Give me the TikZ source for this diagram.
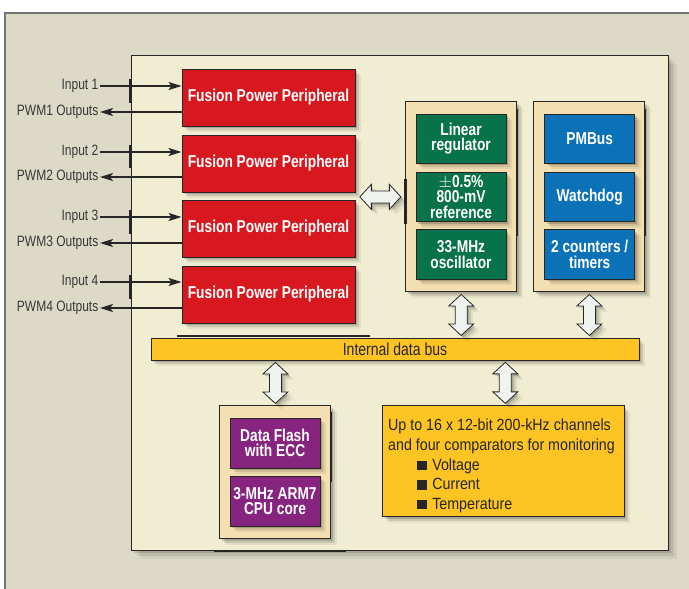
\documentclass[tikz,border=0pt]{standalone}
\usepackage{fontspec}
\setmainfont{Liberation Sans}
\newfontfamily\nfont[FakeStretch=0.8]{Liberation Sans}
\newfontfamily\wfont[FakeStretch=0.88]{Liberation Sans}
\usetikzlibrary{shadows,calc,arrows.meta}
\definecolor{bgout}{HTML}{DCDAC6}
\definecolor{bgin}{HTML}{F0EDD3}
\definecolor{tanc}{HTML}{F3DFB1}
\definecolor{fred}{HTML}{D7181F}
\definecolor{fgreen}{HTML}{08724A}
\definecolor{fblue}{HTML}{0B72B8}
\definecolor{fpurple}{HTML}{86247F}
\definecolor{fyellow}{HTML}{FDC424}
\definecolor{arrfill}{HTML}{F1F3F1}
\definecolor{ink}{HTML}{262626}
\definecolor{lblc}{HTML}{383838}
\tikzset{
  fuzzy/.style={drop shadow={shadow xshift=2pt,shadow yshift=-2pt,opacity=.16,fill=black},
                drop shadow={shadow xshift=4pt,shadow yshift=-4pt,opacity=.10,fill=black},
                drop shadow={shadow xshift=6pt,shadow yshift=-6pt,opacity=.06,fill=black}},
  bigfuzzy/.style={drop shadow={shadow xshift=3pt,shadow yshift=-3pt,opacity=.12,fill=black},
                drop shadow={shadow xshift=6pt,shadow yshift=-6pt,opacity=.09,fill=black},
                drop shadow={shadow xshift=9pt,shadow yshift=-9pt,opacity=.06,fill=black}},
  box/.style={draw=ink, line width=0.9pt, inner sep=0pt, align=center, text=white,
              font=\nfont\bfseries\fontsize{17.2pt}{15.5pt}\selectfont, fuzzy},
  redbox/.style={box, fill=fred, minimum width=173pt, minimum height=57pt},
  grnbox/.style={box, fill=fgreen, minimum width=90pt, minimum height=49.5pt},
  blubox/.style={box, fill=fblue, minimum width=90pt, minimum height=49.5pt},
  purbox/.style={box, fill=fpurple, minimum width=90pt, minimum height=50pt},
  cont/.style={draw=ink, line width=0.9pt, fill=tanc, inner sep=0pt, fuzzy},
  lbl/.style={font=\nfont\fontsize{15pt}{16pt}\selectfont, text=lblc, inner sep=1.5pt},
  ytext/.style={font=\wfont\fontsize{16.2pt}{18pt}\selectfont, text=ink, inner sep=0pt, anchor=base west},
  sig/.style={draw=ink, line width=1.6pt, -{Stealth[length=13pt,width=8pt,inset=3pt]}},
  pinbar/.style={draw=ink, line width=2.6pt},
  edgebar/.style={draw=ink, line width=1.6pt},
  darr/.style={fill=arrfill, draw=ink, line width=0.8pt, line join=miter, fuzzy},
  vdarrow/.pic={\path[darr] (0,-20.5) -- (12.5,-9) -- (6,-9) -- (6,9) -- (12.5,9) -- (0,20.5)
        -- (-12.5,9) -- (-6,9) -- (-6,-9) -- (-12.5,-9) -- cycle;}
}
\begin{document}
\begin{tikzpicture}[x=1pt,y=-1pt]
\useasboundingbox (0,0) rectangle (689,589);
% outer panel
\fill[bgout] (5,13) rectangle (689,589);
\draw[line width=1.3pt, color=black!55] (5,589) -- (5,13) -- (689,13);
% chip
\node[draw=ink, line width=0.9pt, fill=bgin, inner sep=0pt, bigfuzzy,
      minimum width=537pt, minimum height=495pt] (chip) at (399.5,302.5) {};
% fusion power peripherals
\node[redbox] (fpp1) at (268.5,97.5) {Fusion Power Peripheral};
\node[redbox] (fpp2) at (268.5,163.5) {Fusion Power Peripheral};
\node[redbox] (fpp3) at (268.5,228.5) {Fusion Power Peripheral};
\node[redbox] (fpp4) at (268.5,294.5) {Fusion Power Peripheral};
% inputs and outputs
\foreach \i/\yin/\ypw in {1/86/112, 2/152/177, 3/217/243, 4/282/308}{
  \node[lbl, anchor=east] (in\i) at (100,\yin) {Input \i};
  \node[lbl, anchor=east] (pwm\i) at (100,\ypw) {PWM\i\ Outputs};
  \draw[sig] (in\i.east) -- (in\i.east -| fpp\i.west);
  \draw[sig] (pwm\i.east -| fpp\i.west) -- (pwm\i.east);
  \draw[pinbar] ($(in\i.east -| chip.west)+(0,-7)$) -- ($(pwm\i.east -| chip.west)+(0,-9)$);
}
% analog column
\node[cont, minimum width=111pt, minimum height=190pt] (gcol) at (461.2,196.9) {};
\node[grnbox] (lin) at (461,138.7) {Linear\\regulator};
\node[grnbox] (ref) at (461,197) {$\pm$0.5\%\\800-mV\\reference};
\node[grnbox] (osc) at (461,254.5) {33-MHz\\oscillator};
\draw[pinbar] ($(gcol.west)+(0,-18)$) -- ($(gcol.west)+(0,27)$);
\draw[edgebar] ($(gcol.north east)+(0,8)$) -- ($(gcol.north east)+(0,135)$);
% digital column
\node[cont, minimum width=111pt, minimum height=190pt] (bcol) at (589.4,196.9) {};
\node[blubox] (pmb) at (589.7,138.7) {PMBus};
\node[blubox] (wdg) at (589.7,197) {Watchdog};
\node[blubox] (cnt) at (589.7,254.5) {2 counters /\\timers};
\draw[edgebar] ($(bcol.north east)+(0,8)$) -- ($(bcol.north east)+(0,135)$);
% bus
\node[draw=ink, line width=0.9pt, fill=fyellow, inner sep=0pt, fuzzy,
      minimum width=488pt, minimum height=22pt, text=ink,
      font=\nfont\fontsize{17.5pt}{18pt}\selectfont] (bus) at (395,349) {Internal data bus};
\draw[edgebar] ($(bus.north west)+(26,-1.5)$) -- ($(bus.north west)+(219,-1.5)$);
% CPU column
\node[cont, minimum width=111pt, minimum height=133pt] (pcol) at (275.4,472.4) {};
\node[purbox] (flash) at (275,443) {Data Flash\\with ECC};
\node[purbox] (cpu) at (275,501) {3-MHz ARM7\\CPU core};
\draw[edgebar] ($(pcol.north east)+(0,7)$) -- ($(pcol.north east)+(0,77)$);
\draw[line width=2pt, draw=ink] ($(chip.south west)+(83,0.8)$) -- ($(chip.south west)+(215,0.8)$);
% ADC box
\node[draw=ink, line width=0.9pt, fill=fyellow, inner sep=0pt, fuzzy,
      minimum width=241.5pt, minimum height=111pt] (adc) at (503.3,461.2) {};
\node[ytext] (yt1) at (388,430.7) {Up to 16 x 12-bit 200-kHz channels};
\node[ytext] (yt2) at (388,450.2) {and four comparators for monitoring};
\node[ytext] (yt3) at (416.6,470) {\rule{10.5pt}{9.5pt}\hspace{5pt}Voltage};
\node[ytext] (yt4) at (416.6,489.5) {\rule{10.5pt}{9.5pt}\hspace{5pt}Current};
\node[ytext] (yt5) at (416.6,509) {\rule{10.5pt}{9.5pt}\hspace{5pt}Temperature};
% double arrows
\pic[rotate=90] at ($(fpp2.east |- gcol.west)!.5!(gcol.west)$) {vdarrow};
\pic at ($(gcol.south)!.5!(gcol.south |- bus.north)$) {vdarrow};
\pic at ($(bcol.south)!.5!(bcol.south |- bus.north)$) {vdarrow};
\pic at ($(pcol.north)!.5!(pcol.north |- bus.south)$) {vdarrow};
\pic at ($(adc.north)!.5!(adc.north |- bus.south)+(2,0)$) {vdarrow};
\end{tikzpicture}
\end{document}
